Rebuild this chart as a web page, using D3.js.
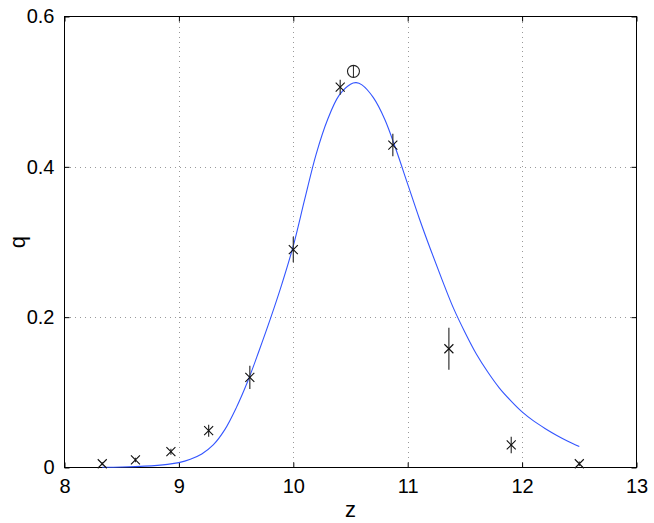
<!DOCTYPE html>
<html>
<head>
<meta charset="utf-8">
<script src="https://cdn.jsdelivr.net/npm/d3@7"></script>
<style>
  html, body { margin: 0; padding: 0; background: #fff; }
  svg { display: block; font-family: "Liberation Sans", Arial, Helvetica, sans-serif; }
</style>
</head>
<body>
<svg id="chart" width="654" height="523"></svg>
<script>
// ---- data ----
const xTicks = [8, 9, 10, 11, 12, 13];
const xTickLabels = ["8", "9", "10", "11", "12", "13"];
const yTicks = [0, 0.2, 0.4, 0.6];
const yTickLabels = ["0", "0.2", "0.4", "0.6"];

const zVals = [8.33, 8.62, 8.93, 9.26, 9.62, 10.0, 10.41, 10.87, 11.36, 11.905, 12.50];
const qVals = [0.005, 0.010, 0.021, 0.049, 0.120, 0.290, 0.506, 0.429, 0.158, 0.030, 0.005];
const qErr  = [0.002, 0.003, 0.004, 0.008, 0.0155, 0.017, 0.010, 0.015, 0.028, 0.011, 0.003];

const peakZ = [10.526];
const peakQ = [0.527];
const peakErr = [0.008];

const curveZ = [8.33, 8.5, 8.7, 8.9, 9.0, 9.1, 9.2, 9.3, 9.4, 9.5, 9.6, 9.7, 9.8, 9.9,
  10.0, 10.1, 10.2, 10.3, 10.4, 10.5, 10.55, 10.6,
  10.7, 10.8, 10.9, 11.0, 11.1, 11.2, 11.3, 11.4, 11.5, 11.6, 11.7, 11.8, 11.9, 12.0, 12.1,
  12.2, 12.3, 12.4, 12.5];
const curveQ = [0.0003, 0.0007, 0.0018, 0.0042, 0.0065, 0.011, 0.018, 0.030, 0.050, 0.079, 0.114,
  0.155, 0.198, 0.244,
  0.295, 0.357, 0.417, 0.463, 0.495, 0.510, 0.512, 0.509,
  0.492, 0.463, 0.422, 0.377, 0.332, 0.290, 0.250, 0.212, 0.180, 0.151, 0.127, 0.106, 0.089, 0.074,
  0.062, 0.052, 0.043, 0.035, 0.028];

// ---- layout ----
const L = 64.5, R = 636.5, T = 16.5, B = 467.5;
const svg = d3.select("#chart");
const x = d3.scaleLinear().domain([8, 13]).range([L, R]);
const y = d3.scaleLinear().domain([0, 0.6]).range([B, T]);

// grid
const grid = svg.append("g").attr("stroke", "#999").attr("stroke-width", 1)
  .attr("stroke-dasharray", "1,4").attr("shape-rendering", "crispEdges");
xTicks.slice(1, -1).forEach(t => {
  grid.append("line").attr("x1", Math.round(x(t)) + 0.5).attr("x2", Math.round(x(t)) + 0.5)
    .attr("y1", T).attr("y2", B);
});
yTicks.slice(1, -1).forEach(t => {
  grid.append("line").attr("y1", Math.round(y(t)) + 0.5).attr("y2", Math.round(y(t)) + 0.5)
    .attr("x1", L).attr("x2", R);
});

// axes (ticks inward, both sides)
const tickLen = 5;
const xAxisB = d3.axisBottom(x).tickValues(xTicks).tickSizeInner(-tickLen).tickSizeOuter(0).tickPadding(11)
  .tickFormat((d, i) => xTickLabels[i]);
const xAxisT = d3.axisTop(x).tickValues(xTicks).tickSizeInner(-tickLen).tickSizeOuter(0).tickFormat("");
const yAxisL = d3.axisLeft(y).tickValues(yTicks).tickSizeInner(-tickLen).tickSizeOuter(0).tickPadding(10)
  .tickFormat((d, i) => yTickLabels[i]);
const yAxisR = d3.axisRight(y).tickValues(yTicks).tickSizeInner(-tickLen).tickSizeOuter(0).tickFormat("");

function styleAxis(g) {
  g.select(".domain").remove();
  g.selectAll("line").attr("stroke", "#000");
  g.selectAll("text").attr("fill", "#000").attr("font-size", 20)
    .attr("font-family", "'Liberation Sans', Arial, sans-serif");
}
svg.append("g").attr("transform", `translate(0,${B})`).call(xAxisB).call(styleAxis);
svg.append("g").attr("transform", `translate(0,${T})`).call(xAxisT).call(styleAxis);
svg.append("g").attr("transform", `translate(${L},0)`).call(yAxisL).call(styleAxis);
svg.append("g").attr("transform", `translate(${R},0)`).call(yAxisR).call(styleAxis);

// box
svg.append("rect").attr("x", L).attr("y", T).attr("width", R - L).attr("height", B - T)
  .attr("fill", "none").attr("stroke", "#000").attr("stroke-width", 1);

// fitted curve
const line = d3.line().x((d, i) => x(curveZ[i])).y(d => y(d)).curve(d3.curveCatmullRom.alpha(0.5));
svg.append("path").datum(curveQ).attr("d", line)
  .attr("fill", "none").attr("stroke", "#3355ff").attr("stroke-width", 1.1);

// error bars + x markers
const pts = svg.append("g");
const m = 4.5;
zVals.forEach((z, i) => {
  const cx = x(z), cy = y(qVals[i]);
  pts.append("line").attr("x1", cx).attr("x2", cx)
    .attr("y1", y(qVals[i] - qErr[i])).attr("y2", y(qVals[i] + qErr[i]))
    .attr("stroke", "#333").attr("stroke-width", 1.2);
  pts.append("path")
    .attr("d", `M${cx - m},${cy - m}L${cx + m},${cy + m}M${cx - m},${cy + m}L${cx + m},${cy - m}`)
    .attr("stroke", "#111").attr("stroke-width", 1.1).attr("fill", "none");
});

// circle marker
peakZ.forEach((z, i) => {
  const cx = x(z), cy = y(peakQ[i]);
  pts.append("line").attr("x1", cx).attr("x2", cx)
    .attr("y1", y(peakQ[i] - peakErr[i])).attr("y2", y(peakQ[i] + peakErr[i]))
    .attr("stroke", "#333").attr("stroke-width", 1.1);
  pts.append("circle").attr("cx", cx).attr("cy", cy).attr("r", 6)
    .attr("fill", "none").attr("stroke", "#222").attr("stroke-width", 1.1);
});

// axis labels
svg.append("text").attr("x", (L + R) / 2).attr("y", 517).attr("text-anchor", "middle")
  .attr("font-size", 22).attr("fill", "#000").text("z");
svg.append("text").attr("transform", `translate(25,${(T + B) / 2}) rotate(-90)`)
  .attr("text-anchor", "middle").attr("font-size", 22).attr("fill", "#000").text("q");
</script>
</body>
</html>
